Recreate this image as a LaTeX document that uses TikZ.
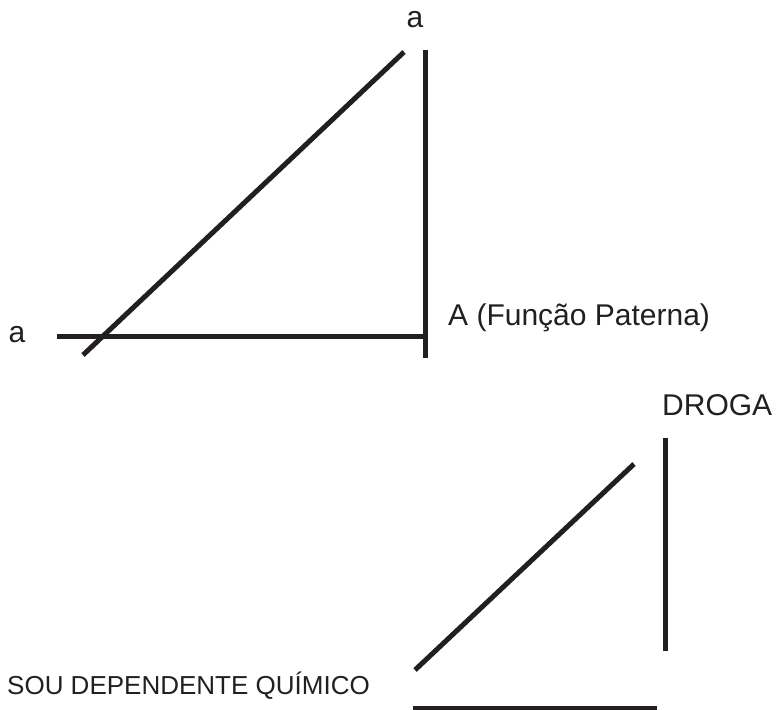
\documentclass[tikz,border=0pt]{standalone}
\usepackage{fontspec}
\setmainfont{Liberation Sans}
\definecolor{ink}{HTML}{231F20}
\begin{document}
\begin{tikzpicture}[x=1pt,y=-1pt,
    bar/.style={line width=5pt,ink},
    lbl/.style={inner sep=0pt,text=ink,font=\fontsize{30}{36}\selectfont}]
    \useasboundingbox (0,0) rectangle (777,710);
    % Upper triangle
    \draw[bar] (83,355) -- (404,52);
    \draw[bar] (425,50) -- (425,358);
    \draw[bar] (57,336) -- (425,336);
    % Labels upper
    \node[lbl,anchor=base] (atop) at (415,27) {a};
    \node[lbl,anchor=base] (aleft) at (17,342) {a};
    \node[lbl,anchor=base west] (paterna) at (448,325) {A (Função Paterna)};
    % Lower figure
    \draw[bar] (665.5,438) -- (665.5,651);
    \draw[bar] (415,670) -- (634,464);
    \draw[bar] (413,708) -- (657,708);
    % Labels lower
    \node[lbl,anchor=base west] (droga) at (662,415) {DROGA};
    \node[lbl,anchor=base west,font=\fontsize{26}{31}\selectfont] (dep) at (7,694) {SOU DEPENDENTE QUÍMICO};
\end{tikzpicture}
\end{document}
